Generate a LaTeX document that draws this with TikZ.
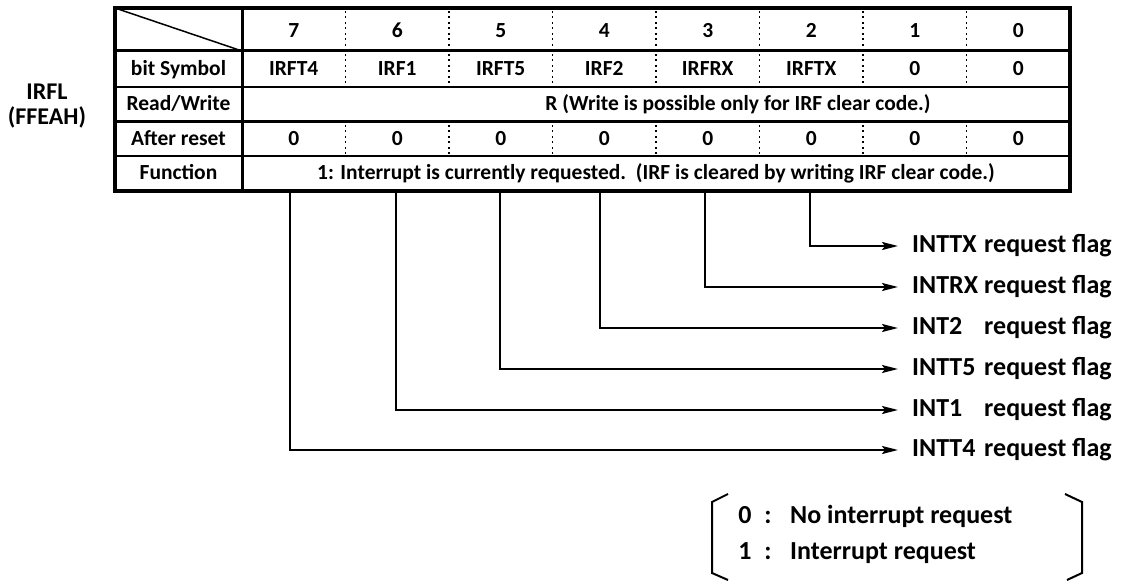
\documentclass[tikz,border=0pt]{standalone}
\usepackage{fontspec}
\setmainfont{Carlito}
\usetikzlibrary{arrows.meta}
\newcommand\tblfont{\fontsize{21.5}{24}\selectfont\bfseries}
\newcommand\lblfont{\fontsize{26}{30}\selectfont\bfseries}
\newcommand\regfont{\fontsize{24}{28}\selectfont\bfseries}
\begin{document}
\begin{tikzpicture}[x=1pt,y=-1pt,
  frame/.style={line width=3.5pt},
  rowthick/.style={line width=3pt},
  rowthin/.style={line width=2pt},
  dotsep/.style={line width=1.6pt, dash pattern=on 2pt off 3.5pt},
  tcell/.style={font=\tblfont, inner sep=0pt, text height=15pt, text depth=2pt},
  flag/.style={font=\lblfont, anchor=west, inner xsep=14pt, inner ysep=0pt, text height=18pt, text depth=5pt},
  conn/.style={line width=2pt, -{Stealth[length=16pt,width=8pt,inset=3pt]}},
  brk/.style={line width=2pt},
  bitem/.style={font=\lblfont, inner sep=0pt, text height=18pt, text depth=5pt},
  regname/.style={font=\regfont, inner sep=0pt, text height=16pt, text depth=5pt},
]
\useasboundingbox (0,0) rectangle (1125,583);
% table frame and rules
\draw[rowthick] (115,51) -- (1070,51);
\draw[rowthin] (115,87) -- (1070,87);
\draw[rowthick] (115,122) -- (1070,122);
\draw[rowthin] (115,156) -- (1070,156);
\draw[rowthick] (242,8) -- (242,191);
\draw[line width=1.5pt] (115,8) -- (242,51);
\foreach \k in {1,...,7} {
  \draw[dotsep] (242+\k*103.5,11) -- (242+\k*103.5,49);
  \draw[dotsep] (242+\k*103.5,54) -- (242+\k*103.5,85);
  \draw[dotsep] (242+\k*103.5,125) -- (242+\k*103.5,154);
}
\draw[frame] (115,8) rectangle (1070,191);
% header and cells
\foreach \b [count=\i from 0] in {7,6,5,4,3,2,1,0}
  \node[tcell] (h\b) at (242+103.5*\i+51.75,31) {\b};
\foreach \s [count=\i from 0] in {IRFT4,IRF1,IRFT5,IRF2,IRFRX,IRFTX,0,0}
  \node[tcell] (s\i) at (242+103.5*\i+51.75,69) {\s};
\foreach \i in {0,...,7}
  \node[tcell] (r\i) at (242+103.5*\i+51.75,139) {0};
\node[tcell] (rw) at (738,104.5) {R (Write is possible only for IRF clear code.)};
\node[tcell] (fn) at (656,173.5) {1: Interrupt is currently requested.\ \ (IRF is cleared by writing IRF clear code.)};
% row labels
\node[tcell] (lbs) at (178.5,69) {bit Symbol};
\node[tcell] (lrw) at (178.5,104.5) {Read/Write};
\node[tcell] (lar) at (178.5,139) {After reset};
\node[tcell] (lfn) at (178.5,173.5) {Function};
% register name
\node[regname] (irfl) at (47,94) {IRFL};
\node[regname] (addr) at (47,119) {(FFEAH)};
% connectors
\coordinate (t2) at (810,191);
\coordinate (t3) at (705,191);
\coordinate (t4) at (600,191);
\coordinate (t5) at (500,191);
\coordinate (t6) at (396,191);
\coordinate (t7) at (290,191);
\node[flag] (f2) at (898,246) {\makebox[72pt][l]{INTTX}request flag};
\node[flag] (f3) at (898,287) {\makebox[72pt][l]{INTRX}request flag};
\node[flag] (f4) at (898,328) {\makebox[72pt][l]{INT2}request flag};
\node[flag] (f5) at (898,369) {\makebox[72pt][l]{INTT5}request flag};
\node[flag] (f6) at (898,410) {\makebox[72pt][l]{INT1}request flag};
\node[flag] (f7) at (898,450) {\makebox[72pt][l]{INTT4}request flag};
\foreach \b in {2,...,7}
  \draw[conn] (t\b) |- (f\b.west);
% legend
\node[bitem] (z0) at (745,517) {0};
\node[bitem] (c0) at (768,517) {:};
\node[bitem, anchor=west] (t0) at (790,517) {No interrupt request};
\node[bitem] (z1) at (745,553) {1};
\node[bitem] (c1) at (768,553) {:};
\node[bitem, anchor=west] (t1) at (790,553) {Interrupt request};
\draw[brk] (728,494) -- (712,502) -- (712,573) -- (728,580);
\draw[brk] (1065,494) -- (1082,502) -- (1082,573) -- (1067,580);
\end{tikzpicture}
\end{document}
